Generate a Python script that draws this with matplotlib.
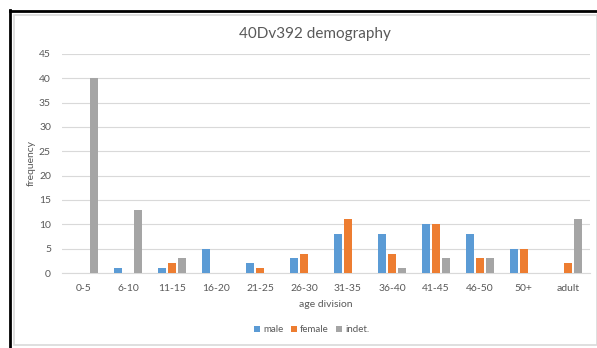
import numpy as np
import matplotlib
matplotlib.use("Agg")
from matplotlib import pyplot as plt
from matplotlib.lines import Line2D
from matplotlib.patches import Rectangle

plt.rcParams['font.family'] = ['Lato', 'DejaVu Sans']

# data
categories = ["0-5", "6-10", "11-15", "16-20", "21-25", "26-30",
              "31-35", "36-40", "41-45", "46-50", "50+", "adult"]
male = [0, 1, 1, 5, 2, 3, 8, 8, 10, 8, 5, 0]
female = [0, 0, 2, 0, 1, 4, 11, 4, 10, 3, 5, 2]
indet = [40, 13, 3, 0, 0, 0, 0, 1, 3, 3, 0, 11]
series_names = ["male", "female", "indet."]
colors = ["#5B9BD5", "#ED7D31", "#A5A5A5"]

fig = plt.figure(figsize=(5.97, 3.48), dpi=100)
ax = fig.add_axes([0.104, 0.2155, 0.884, 0.6295])

x = np.arange(len(categories))
w = 0.18
off = 0.227
for k, (vals, name, c) in enumerate(zip([male, female, indet], series_names, colors)):
    ax.bar(x + (k - 1) * off, vals, width=w, color=c, label=name, zorder=3)

ax.set_xlim(-0.5, len(categories) - 0.5)
ax.set_ylim(0, 45)
ax.set_yticks(range(0, 46, 5))
ax.set_xticks(x)
ax.set_xticklabels(categories)
ax.grid(axis='y', color='#D9D9D9', linewidth=0.8, zorder=0)
for s in ['top', 'right', 'left']:
    ax.spines[s].set_visible(False)
ax.spines['bottom'].set_color('#D9D9D9')
ax.tick_params(axis='both', length=0, labelsize=7.5, colors='#595959', pad=8)

ax.set_xlabel("age division", fontsize=7.5, color='#595959', labelpad=5)
ax.set_ylabel("frequency", fontsize=7.5, color='#595959', labelpad=2)
fig.text(0.528, 0.903, "40Dv392 demography", ha='center', va='center',
         fontsize=11, color='#595959')

fig.legend(loc='center', bbox_to_anchor=(0.522, 0.052), ncol=3, frameon=False,
           fontsize=7, handlelength=0.6, handleheight=0.6, handletextpad=0.3,
           columnspacing=0.8, labelcolor='#595959')

# outer frame like the source screenshot
fig.add_artist(Rectangle((14 / 597, 1 - 345 / 348), (597 - 14) / 597, (345 - 15) / 348,
                         transform=fig.transFigure, fill=False,
                         edgecolor='#D9D9D9', linewidth=1.2))
fig.add_artist(Line2D([10 / 597, 10 / 597], [0, 1 - 10 / 348], transform=fig.transFigure,
                      color='black', linewidth=2))
fig.add_artist(Line2D([10 / 597, 1], [1 - 11 / 348, 1 - 11 / 348], transform=fig.transFigure,
                      color='black', linewidth=2))

plt.savefig("out.png", dpi=100)
